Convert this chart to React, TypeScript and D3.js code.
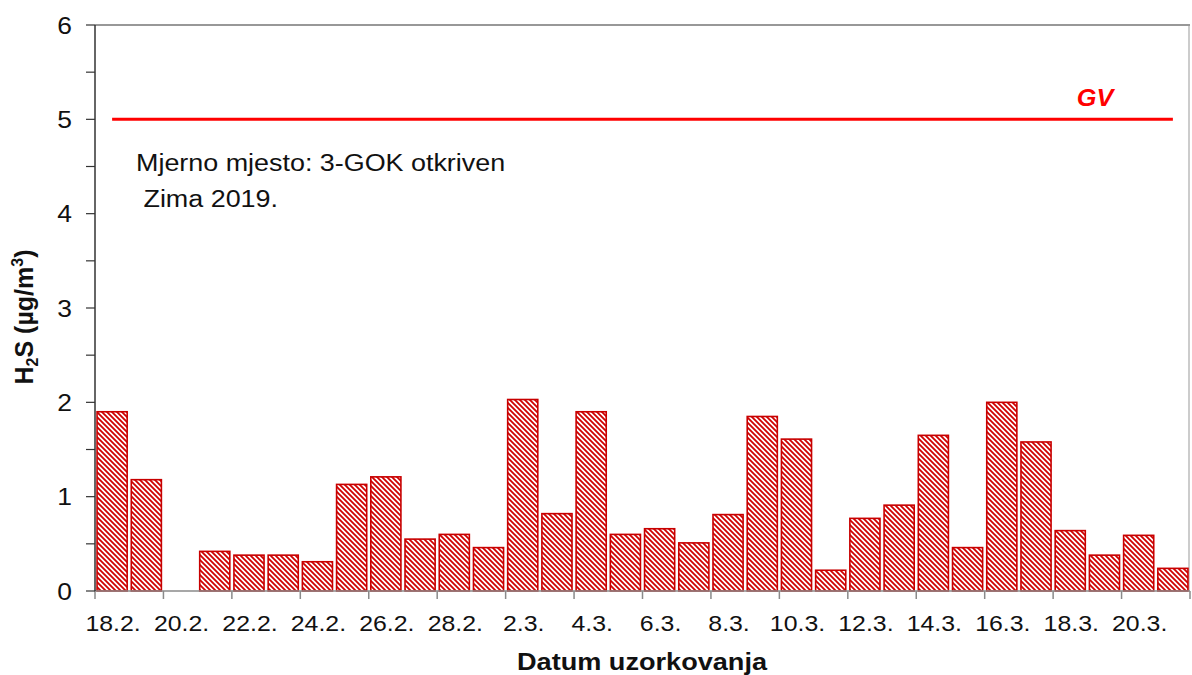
import React from "react";
import * as d3 from "d3";

const categories: string[] = [
  "18.2.", "19.2.", "20.2.", "21.2.", "22.2.", "23.2.", "24.2.", "25.2.", "26.2.", "27.2.", "28.2.",
  "1.3.", "2.3.", "3.3.", "4.3.", "5.3.", "6.3.", "7.3.", "8.3.", "9.3.", "10.3.",
  "11.3.", "12.3.", "13.3.", "14.3.", "15.3.", "16.3.", "17.3.", "18.3.", "19.3.", "20.3.", "21.3.",
];

const h2sValues: (number | null)[] = [
  1.90, 1.18, null, 0.42, 0.38, 0.38, 0.31, 1.13, 1.21, 0.55, 0.60,
  0.46, 2.03, 0.82, 1.90, 0.60, 0.66, 0.51, 0.81, 1.85, 1.61,
  0.22, 0.77, 0.91, 1.65, 0.46, 2.00, 1.58, 0.64, 0.38, 0.59, 0.24,
];

const yTickLabels: number[] = [0, 1, 2, 3, 4, 5, 6];
const yMinorTicks: number[] = [0.5, 1.5, 2.5, 3.5, 4.5, 5.5];
const gvValue = 5;
const gvLabel = "GV";
const annotationLines: string[] = ["Mjerno mjesto: 3-GOK otkriven", " Zima 2019."];
const xTitle = "Datum uzorkovanja";

const FONT = "'Liberation Sans', Arial, Helvetica, sans-serif";
const SX = 1.18;

function SText(props: {
  x: number; y: number; size: number; anchor?: string; weight?: string; fill?: string;
  italic?: boolean; sx?: number; children: React.ReactNode;
}) {
  const { x, y, size, anchor = "start", weight = "normal", fill = "#111", italic = false, sx = SX } = props;
  return (
    <text
      transform={`translate(${x},${y}) scale(${sx},1)`}
      fontFamily={FONT}
      fontSize={size}
      fontWeight={weight}
      fontStyle={italic ? "italic" : "normal"}
      textAnchor={anchor}
      fill={fill}
      style={{ whiteSpace: "pre" }}
    >
      {props.children}
    </text>
  );
}

export default function App() {
  const W = 1192, H = 675;
  const left = 95, right = 1190, top = 25, bottom = 591;

  const x = d3.scaleBand<string>().domain(categories).range([left, right]).paddingInner(0.12).paddingOuter(0.06);
  const xb = d3.scaleBand<string>().domain(categories).range([left, right]).padding(0);
  const y = d3.scaleLinear().domain([0, 6]).range([bottom, top]);

  const tickIdx = categories.map((_, i) => i).filter((i) => i % 2 === 0);
  const step = xb.step();
  const P = 5;

  return (
    <svg width={W} height={H} style={{ position: "absolute", left: 0, top: 0, background: "#fff" }}>
      <defs>
        <pattern id="hatch" patternUnits="userSpaceOnUse" width={P} height={P}>
          <rect width={P} height={P} fill="#fff" />
          <path d={`M-1,-1 L${P + 1},${P + 1} M-1,${P - 1} L1,${P + 1} M${P - 1},-1 L${P + 1},1`} stroke="#d00000" strokeWidth={1.8} />
        </pattern>
      </defs>

      {/* plot border */}
      <line x1={left} x2={right} y1={top} y2={top} stroke="#333" strokeWidth={1.2} />
      <line x1={right - 1} x2={right - 1} y1={top} y2={bottom} stroke="#999" strokeWidth={1} />

      {/* bars */}
      {h2sValues.map((v, i) =>
        v == null ? null : (
          <rect
            key={i}
            x={x(categories[i])!}
            y={y(v)}
            width={x.bandwidth()}
            height={y(0) - y(v)}
            fill="url(#hatch)"
            stroke="#c80000"
            strokeWidth={1.6}
          />
        )
      )}

      {/* x axis */}
      <line x1={left} x2={right} y1={bottom} y2={bottom} stroke="#8a8a8a" strokeWidth={1.5} />
      {tickIdx.map((i) => (
        <line key={"xt" + i} x1={xb(categories[i])!} x2={xb(categories[i])!} y1={bottom} y2={bottom + 8} stroke="#8a8a8a" strokeWidth={1.5} />
      ))}
      <line x1={right} x2={right} y1={bottom} y2={bottom + 8} stroke="#8a8a8a" strokeWidth={1.5} />
      {tickIdx.map((i) => (
        <SText key={"xl" + i} x={xb(categories[i])! + step / 2 + 1} y={631} size={22} anchor="middle" sx={1.13}>
          {categories[i]}
        </SText>
      ))}

      {/* y axis */}
      <line x1={left} x2={left} y1={top} y2={bottom} stroke="#333" strokeWidth={1.5} />
      {[...yTickLabels, ...yMinorTicks].map((t) => (
        <line key={"yt" + t} x1={left - 9} x2={left} y1={y(t)} y2={y(t)} stroke="#333" strokeWidth={1.2} />
      ))}
      {yTickLabels.map((t) => (
        <SText key={"yl" + t} x={72} y={y(t) + 8.5} size={23} anchor="end" sx={1.15}>
          {t}
        </SText>
      ))}

      {/* GV line */}
      <line
        x1={xb(categories[0])! + step / 2}
        x2={xb(categories[categories.length - 1])! + step / 2}
        y1={y(gvValue)}
        y2={y(gvValue)}
        stroke="#ff0000"
        strokeWidth={3}
      />
      <SText x={1095} y={106} size={23} anchor="middle" weight="bold" italic fill="#ff0000" sx={1.1}>
        {gvLabel}
      </SText>

      {/* annotations */}
      <SText x={136} y={171} size={23} sx={1.17}>{annotationLines[0]}</SText>
      <SText x={136} y={207} size={23} sx={1.17}>{annotationLines[1]}</SText>

      {/* axis titles */}
      <SText x={642} y={670} size={24} anchor="middle" weight="bold" sx={1.13}>
        {xTitle}
      </SText>
      <text
        transform={`translate(33,317) rotate(-90)`}
        fontFamily={FONT}
        fontSize={25}
        fontWeight="bold"
        textAnchor="middle"
        fill="#111"
      >
        H<tspan fontSize={16} dy={5}>2</tspan>
        <tspan dy={-5}>S (µg/m</tspan>
        <tspan fontSize={16} dy={-10}>3</tspan>
        <tspan dy={10}>)</tspan>
      </text>
    </svg>
  );
}
